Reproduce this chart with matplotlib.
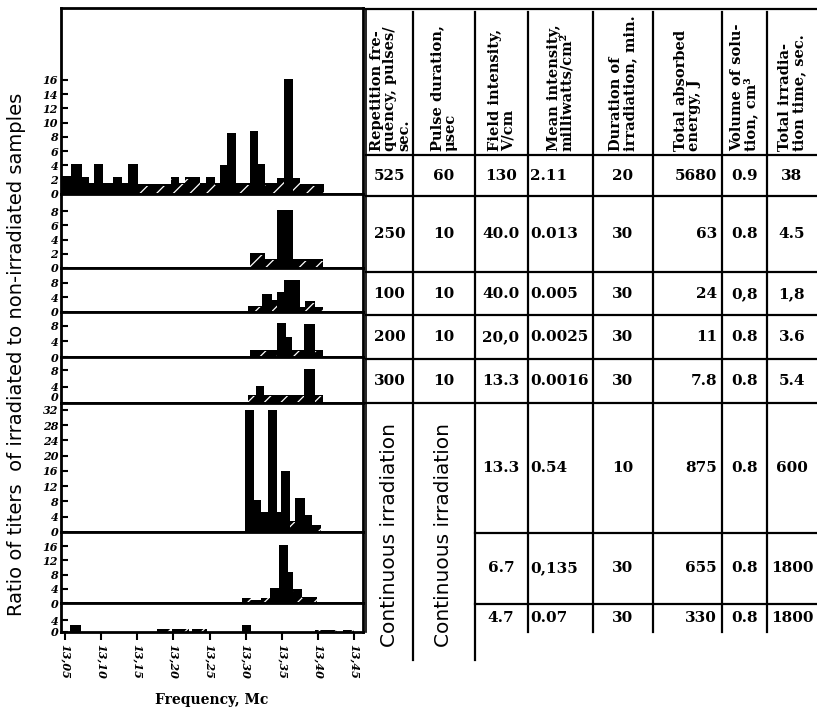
import numpy as np
import matplotlib
matplotlib.use("Agg")
import matplotlib.pyplot as plt
from matplotlib.ticker import FixedLocator

# ---------------- data ----------------
# bar edges (frequency, Mc), heights (ratio of titers) and hatched flags per panel
p1_edges = [13.0445, 13.058, 13.074, 13.0835, 13.0895, 13.102, 13.117, 13.1295, 13.137,
            13.151, 13.196, 13.208, 13.2155, 13.2365, 13.2445, 13.257, 13.264, 13.2735,
            13.287, 13.3055, 13.3165, 13.326, 13.3425, 13.3525, 13.3655, 13.3745, 13.408]
p1_heights = [2.5, 4.2, 2.4, 1.6, 4.2, 1.6, 2.4, 1.6, 4.2, 1.4, 2.4, 1.6, 2.4, 1.5, 2.4,
              1.5, 4.0, 8.5, 1.5, 8.9, 4.2, 1.5, 2.3, 16.2, 2.3, 1.4]
p1_hatch = [0, 0, 0, 0, 0, 0, 0, 0, 0, 1, 1, 1, 1, 1, 1, 1, 0, 0, 1, 0, 0, 1, 1, 0, 1, 1]

p2_edges = [13.3055, 13.3265, 13.3425, 13.3655, 13.407]
p2_heights = [2.1, 1.3, 8.2, 1.2]
p2_hatch = [1, 1, 0, 1]

p3_edges = [13.303, 13.3225, 13.3365, 13.3425, 13.3525, 13.3745, 13.3825, 13.395, 13.407]
p3_heights = [1.65, 5.0, 3.2, 5.5, 8.7, 1.4, 2.9, 1.4]
p3_hatch = [1, 0, 1, 0, 0, 1, 1, 1]

p4_edges = [13.3055, 13.3425, 13.355, 13.364, 13.381, 13.396, 13.407]
p4_heights = [1.9, 8.8, 5.2, 1.9, 8.6, 1.9]
p4_hatch = [1, 0, 0, 1, 0, 1]

p5_edges = [13.303, 13.3135, 13.325, 13.381, 13.395, 13.407]
p5_heights = [1.9, 4.2, 1.9, 8.2, 1.9]
p5_hatch = [1, 0, 1, 0, 1]

p6_edges = [13.2995, 13.311, 13.3215, 13.3305, 13.3425, 13.349, 13.3615, 13.3685,
            13.3825, 13.3915, 13.404]
p6_heights = [32.0, 8.5, 5.3, 32.0, 5.3, 16.1, 3.0, 9.0, 4.4, 1.8]
p6_hatch = [0, 0, 0, 0, 0, 0, 1, 0, 0, 1]

p7_edges = [13.295, 13.3065, 13.3215, 13.334, 13.3455, 13.358, 13.3655, 13.378, 13.3985]
p7_heights = [1.5, 0.9, 1.5, 4.2, 16.2, 8.6, 4.0, 1.8]
p7_hatch = [1, 1, 1, 0, 0, 0, 1, 1]

p8_edges = [13.0575, 13.072, 13.177, 13.195, 13.1985, 13.2215, 13.226, 13.247, 13.295,
            13.3065, 13.396, 13.426, 13.435, 13.449]
p8_heights = [2.4, 0, 1.0, 0, 1.0, 0, 1.0, 0, 2.4, 0, 0.8, 0, 0.8]
p8_hatch = [0, 0, 1, 0, 1, 0, 1, 0, 0, 0, 1, 0, 1]

p1_ticks = [0, 2, 4, 6, 8, 10, 12, 14, 16]
p2_ticks = [0, 2, 4, 6, 8]
p3_ticks = [0, 4, 8]
p4_ticks = [0, 4, 8]
p5_ticks = [0, 4, 8]
p6_ticks = [0, 4, 8, 12, 16, 20, 24, 28, 32]
p7_ticks = [0, 4, 8, 12, 16]
p8_ticks = [0, 4]

x_ticks = [13.05, 13.10, 13.15, 13.20, 13.25, 13.30, 13.35, 13.40, 13.45]
x_ticklabels = ["13,05", "13,10", "13,15", "13,20", "13,25", "13,30", "13,35", "13,40", "13,45"]

y_label = "Ratio of titers  of irradiated to non-irradiated samples"
x_label = "Frequency, Mc"

header_texts = ["Repetition fre-\nquency, pulses/\nsec.",
                "Pulse duration,\n\u03bcsec",
                "Field intensity,\nV/cm",
                "Mean intensity,\nmilliwatts/cm\u00b2",
                "Duration of\nirradiation, min.",
                "Total absorbed\nenergy, J",
                "Volume of solu-\ntion, cm\u00b3",
                "Total irradia-\ntion time, sec."]

pulse_rows = [["525", "60", "130", "2.11", "20", "5680", "0.9", "38"],
              ["250", "10", "40.0", "0.013", "30", "63", "0.8", "4.5"],
              ["100", "10", "40.0", "0.005", "30", "24", "0,8", "1,8"],
              ["200", "10", "20,0", "0.0025", "30", "11", "0.8", "3.6"],
              ["300", "10", "13.3", "0.0016", "30", "7.8", "0.8", "5.4"]]
continuous_label = "Continuous irradiation"
continuous_rows = [["13.3", "0.54", "10", "875", "0.8", "600"],
                   ["6.7", "0,135", "30", "655", "0.8", "1800"],
                   ["4.7", "0.07", "30", "330", "0.8", "1800"]]

# ---------------- layout ----------------
W, H = 817, 714
fig = plt.figure(figsize=(W / 100, H / 100), dpi=100)
plt.rcParams['hatch.linewidth'] = 0.9


def px_axes(x0, y0, x1, y1, **kw):
    return fig.add_axes([x0 / W, 1 - y1 / H, (x1 - x0) / W, (y1 - y0) / H], **kw)


panels = [
    (p1_edges, p1_heights, p1_hatch, p1_ticks, 8, 194, 26.1),
    (p2_edges, p2_heights, p2_hatch, p2_ticks, 194, 268, 10.4),
    (p3_edges, p3_heights, p3_hatch, p3_ticks, 268, 312, 12.1),
    (p4_edges, p4_heights, p4_hatch, p4_ticks, 312, 357, 11.6),
    (p5_edges, p5_heights, p5_hatch, p5_ticks, 357, 403, 11.2),
    (p6_edges, p6_heights, p6_hatch, p6_ticks, 403, 532, 33.8),
    (p7_edges, p7_heights, p7_hatch, p7_ticks, 532, 603, 20.0),
    (p8_edges, p8_heights, p8_hatch, p8_ticks, 603, 632, 9.7),
]
XL, XR = 61, 363
xlim = (13.0445, 13.462)

tick_font = dict(family="DejaVu Serif", weight="bold", style="italic", size=8)

axes = []
for i, (edges, heights, hatch, yt, top, bot, ymax) in enumerate(panels):
    ax = px_axes(XL, top, XR, bot)
    edges = np.asarray(edges)
    heights = np.asarray(heights)
    lefts = edges[:-1]
    widths = np.diff(edges)
    hatch = np.asarray(hatch).astype(bool)
    ax.bar(lefts, heights, widths, align='edge', color='black', linewidth=0)
    if hatch.any():
        ax.bar(lefts[hatch], heights[hatch] * 0.85, widths[hatch], align='edge',
               facecolor='none', edgecolor='white', linewidth=0, hatch='//')
    ax.set_xlim(*xlim)
    ax.set_ylim(0, ymax)
    ax.yaxis.set_major_locator(FixedLocator(yt))
    ax.set_yticklabels([str(v) for v in yt], fontdict=tick_font)
    ax.tick_params(axis='y', direction='in', length=5, width=1.5, pad=2)
    for s in ax.spines.values():
        s.set_linewidth(2)
    if i < len(panels) - 1:
        ax.set_xticks([])
    else:
        ax.set_xticks(x_ticks)
        ax.set_xticklabels(x_ticklabels, rotation=-90, fontdict=tick_font)
        ax.tick_params(axis='x', direction='out', length=6, width=1.5, pad=3)
    axes.append(ax)

# keep the cramped "0" of panel 5 clear of the "32" of panel 6
axes[4].yaxis.get_major_ticks()[0].label1.set_va('bottom')

axes[-1].set_xlabel(x_label, family="DejaVu Serif", weight="bold", size=10, labelpad=10)
fig.text(17 / W, 1 - 354 / H, y_label, rotation=90, ha='center', va='center',
         family="DejaVu Sans", size=14)

# ---------------- table ----------------
tax = fig.add_axes([0, 0, 1, 1], zorder=-1)
tax.set_xlim(0, W)
tax.set_ylim(H, 0)
tax.axis('off')

col_x = [366, 413, 475, 528, 593, 653, 722, 767, 817]
lw = 1.6
# horizontal rules
for y in [9, 155, 196, 272, 315, 359, 403]:
    tax.plot([col_x[0], W], [y, y], color='black', lw=lw)
for y in [533, 604]:
    tax.plot([col_x[2], W], [y, y], color='black', lw=lw)
# vertical rules
tax.plot([col_x[0], col_x[0]], [9, 632], color='black', lw=1.2)
for xv in col_x[1:3]:
    tax.plot([xv, xv], [12, 660], color='black', lw=lw)
for xv in col_x[3:-1]:
    tax.plot([xv, xv], [12, 632], color='black', lw=lw)

serif_b = dict(family="DejaVu Serif", weight="bold")
for j, txt in enumerate(header_texts):
    cx = (col_x[j] + col_x[j + 1]) / 2
    tax.text(cx + (1 if j == 0 else 0), 151, txt, rotation=90, ha='center', va='bottom',
             size=10.5, multialignment='left', linespacing=0.95, **serif_b)

col_align = [('center', None), ('center', None), ('center', 501), ('left', 530),
             ('center', None), ('right', 717), ('center', None), ('center', None)]
row_y = [176, 234, 294, 337, 381]
for r, row in enumerate(pulse_rows):
    for j, val in enumerate(row):
        ha, xx = col_align[j]
        if xx is None:
            xx = (col_x[j] + col_x[j + 1]) / 2
        tax.text(xx, row_y[r], val, ha=ha, va='center', size=11, **serif_b)

for j in range(2):
    cx = (col_x[j] + col_x[j + 1]) / 2
    tax.text(cx, 535, continuous_label, rotation=90, ha='center', va='center',
             family="DejaVu Sans", size=14.5)

cont_y = [468, 568, 618]
for r, row in enumerate(continuous_rows):
    for k, val in enumerate(row):
        j = k + 2
        ha, xx = col_align[j]
        if xx is None:
            xx = (col_x[j] + col_x[j + 1]) / 2
        tax.text(xx, cont_y[r], val, ha=ha, va='center', size=11, **serif_b)

fig.savefig("out.png", dpi=100)
